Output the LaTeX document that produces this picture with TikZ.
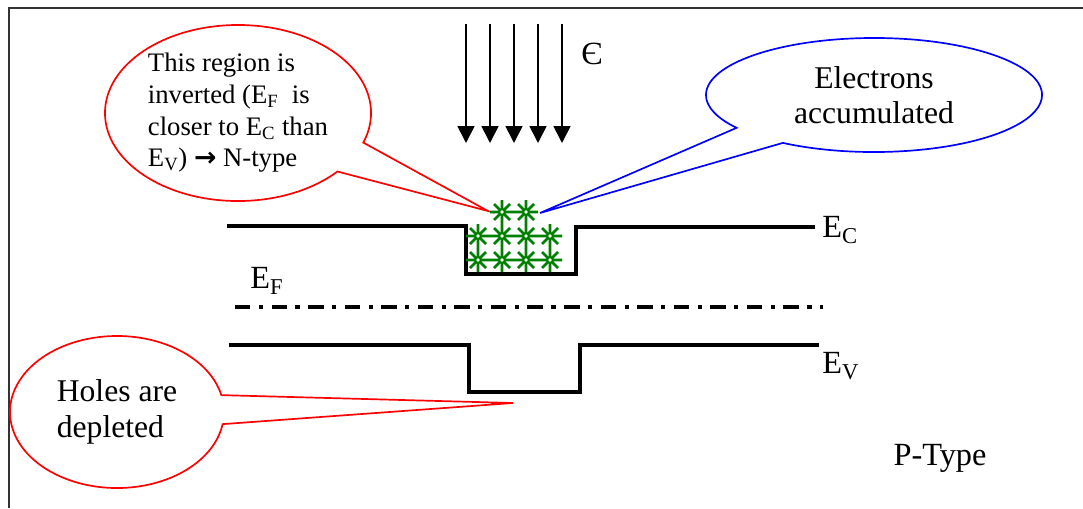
\documentclass[tikz,border=0pt]{standalone}
\usepackage{fontspec}
\setmainfont{Liberation Serif}
\newfontfamily\symfont{DejaVu Sans}
\usetikzlibrary{arrows.meta,shapes.callouts}

\begin{document}
\begin{tikzpicture}[x=0.025cm, y=-0.025cm,
    bandS/.style={line width=2.8pt},
    fieldS/.style={-{Triangle[width=12pt,length=12pt]}, line width=1.2pt},
    calloutS/.style={ellipse callout, line width=1.2pt, fill=white, text=black,
        inner sep=0pt, outer sep=0pt, callout pointer arc=22},
    lblS/.style={font=\fontsize{23}{27}\selectfont, inner sep=0pt},
    elecS/.style={green!50!black, line width=1.8pt},
]
\useasboundingbox (0,0) rectangle (1083,508);
% frame, only top and left edges show
\draw[line width=1.4pt, black!80] (9,508) -- (9,8) -- (1083,8);
% field arrows
\foreach \xa in {466,490,514,538,562}
    \draw[fieldS] (\xa,24) -- (\xa,143);
\node[lblS] (field) at (592,54) {Є};
% callouts
\coordinate (invTip) at (488,211);
\coordinate (elecTip) at (540,213);
\coordinate (holeTip) at (513,403);
\node[calloutS, draw=red, minimum width=6.65cm, minimum height=4.4cm,
    callout absolute pointer={(invTip)}, align=left,
    font=\fontsize{19}{22.5}\selectfont] (inv) at (238,113)
    {This region is\\ inverted (E\textsubscript{F}\ \ is\\ closer to E\textsubscript{C} than\\ E\textsubscript{V}) {\symfont\bfseries →} N-type};
\node[calloutS, draw=blue, minimum width=8.4cm, minimum height=2.85cm,
    callout absolute pointer={(elecTip)}, align=center,
    font=\fontsize{22.5}{25}\selectfont] (elec) at (874,95)
    {Electrons\\ accumulated};
\node[calloutS, draw=red, minimum width=5.35cm, minimum height=3.8cm,
    callout absolute pointer={(holeTip)}, align=left,
    font=\fontsize{22.5}{25.5}\selectfont] (holes) at (117,412)
    {Holes are\\ depleted};
% conduction band
\draw[bandS] (227,226) -- (466,226) -- (466,274) -- (576,274) -- (576,227) -- (815,227);
\node[lblS, anchor=west] (ec) at (822,230) {E\textsubscript{C}};
% Fermi level
\draw[line width=2.8pt, dash pattern=on 11pt off 6pt on 3pt off 6pt] (235,307) -- (823,307);
\node[lblS] (ef) at (267,281) {E\textsubscript{F}};
% valence band
\draw[bandS] (229,345) -- (469,345) -- (469,392) -- (580,392) -- (580,345) -- (819,345);
\node[lblS, anchor=west] (ev) at (822,366) {E\textsubscript{V}};
\node[lblS] (ptype) at (940,458) {P-Type};
% electrons in the inversion layer
\foreach \ex/\ey in {502/212,526/212,478/236,502/236,526/236,550/236,478/260,502/260,526/260,550/260} {
    \draw[elecS] (\ex-12,\ey) -- (\ex+12,\ey) (\ex,\ey-12) -- (\ex,\ey+12)
        (\ex-8,\ey-8) -- (\ex+8,\ey+8) (\ex-8,\ey+8) -- (\ex+8,\ey-8);
    \draw[elecS, line width=1pt, fill=white] (\ex,\ey) circle (2.5);
}
\end{tikzpicture}
\end{document}
